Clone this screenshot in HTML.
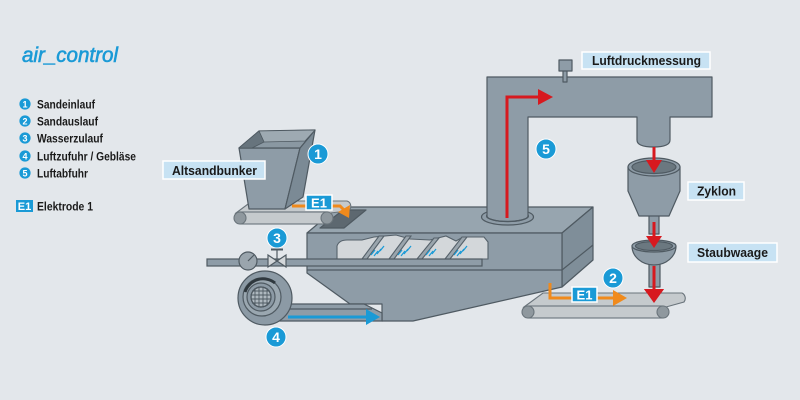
<!DOCTYPE html>
<html><head><meta charset="utf-8"><style>
html,body{margin:0;padding:0;background:#e3e7eb;}
svg{display:block;}
text{font-family:"Liberation Sans",sans-serif;}
</style></head><body>
<svg width="800" height="400" viewBox="0 0 800 400" xmlns="http://www.w3.org/2000/svg">
<rect width="800" height="400" fill="#e3e7eb"/>

<!-- Legend -->
<text x="22" y="62" font-size="21" font-style="italic" fill="#1a9ad6" stroke="#1a9ad6" stroke-width="0.6" textLength="96" lengthAdjust="spacingAndGlyphs">air_control</text>
<g font-weight="bold" font-size="12" fill="#1a1a1a">
  <circle cx="25" cy="104" r="5.6" fill="#1a9ad6"/><text x="25" y="107.5" font-size="9" fill="#fff" text-anchor="middle">1</text>
  <text x="37" y="108.5" textLength="58" lengthAdjust="spacingAndGlyphs">Sandeinlauf</text>
  <circle cx="25" cy="121" r="5.6" fill="#1a9ad6"/><text x="25" y="124.5" font-size="9" fill="#fff" text-anchor="middle">2</text>
  <text x="37" y="125.5" textLength="61" lengthAdjust="spacingAndGlyphs">Sandauslauf</text>
  <circle cx="25" cy="138" r="5.6" fill="#1a9ad6"/><text x="25" y="141.5" font-size="9" fill="#fff" text-anchor="middle">3</text>
  <text x="37" y="142.5" textLength="66" lengthAdjust="spacingAndGlyphs">Wasserzulauf</text>
  <circle cx="25" cy="156" r="5.6" fill="#1a9ad6"/><text x="25" y="159.5" font-size="9" fill="#fff" text-anchor="middle">4</text>
  <text x="37" y="160.5" textLength="99" lengthAdjust="spacingAndGlyphs">Luftzufuhr / Gebläse</text>
  <circle cx="25" cy="173" r="5.6" fill="#1a9ad6"/><text x="25" y="176.5" font-size="9" fill="#fff" text-anchor="middle">5</text>
  <text x="37" y="177.5" textLength="51" lengthAdjust="spacingAndGlyphs">Luftabfuhr</text>
  <rect x="16" y="200" width="17" height="12" fill="#1a9ad6"/>
  <text x="24.5" y="210" font-size="11" fill="#fff" text-anchor="middle">E1</text>
  <text x="37" y="210.5" textLength="56" lengthAdjust="spacingAndGlyphs">Elektrode 1</text>
</g>

<!-- Mixer box -->
<g stroke="#4f5a62" stroke-width="1.2" stroke-linejoin="round">
  <polygon points="307,233 338,207 593,207 562,233" fill="#97a5af"/>
  <polygon points="562,233 593,207 593,260 562,287" fill="#7f8e99"/>
  <line x1="562" y1="270" x2="593" y2="245"/>
  <polygon points="307,233 562,233 562,287 413,321 382,321 382,304 350,304 307,273" fill="#8e9ca7"/>
  <line x1="307" y1="270" x2="562" y2="270"/>
  <!-- plate on top -->
  <polygon points="320,228 343,210 366,210 344,228" fill="#5d6870"/>
</g>

<!-- mixing window -->
<g stroke="#55616a" stroke-width="1.1">
  <path d="M337,259 L337,246 Q339,240 347,240 L362,240 L374,237 L396,235 L410,239 L430,240 L446,236 L456,241 L463,237 L484,237 L488,242 L488,259 Z" fill="#d3d7da"/>
  <polygon points="362,259 379,236 384,236 367,259" fill="#9aa5ad"/>
  <polygon points="389,259 406,236 411,236 394,259" fill="#9aa5ad"/>
  <polygon points="417,259 434,238 439,238 422,259" fill="#9aa5ad"/>
  <polygon points="445,259 462,237 467,237 450,259" fill="#9aa5ad"/>
</g>
<g stroke="#1a9ad6" stroke-width="1.2">
  <line x1="371" y1="255" x2="375" y2="250"/><line x1="374" y1="256" x2="378" y2="251"/><line x1="377" y1="254" x2="381" y2="249"/><line x1="380" y1="251" x2="384" y2="246"/>
  <line x1="398" y1="255" x2="402" y2="250"/><line x1="401" y1="256" x2="405" y2="251"/><line x1="404" y1="254" x2="408" y2="249"/><line x1="407" y1="251" x2="411" y2="246"/>
  <line x1="426" y1="255" x2="430" y2="250"/><line x1="429" y1="256" x2="433" y2="251"/><line x1="432" y1="254" x2="436" y2="249"/>
  <line x1="454" y1="255" x2="458" y2="250"/><line x1="457" y1="256" x2="461" y2="251"/><line x1="460" y1="254" x2="464" y2="249"/><line x1="463" y1="251" x2="467" y2="246"/>
</g>

<!-- Water pipe -->
<g stroke="#4f5a62" stroke-width="1.2">
  <rect x="207" y="259" width="275" height="7" fill="#8e9ca7"/>
  <circle cx="248" cy="261" r="9" fill="#9aa5ad"/>
  <line x1="248" y1="261" x2="254" y2="255"/>
  <polygon points="268,255 268,267 277,261" fill="#d3d7da"/>
  <polygon points="286,255 286,267 277,261" fill="#d3d7da"/>
  <line x1="277" y1="261" x2="277" y2="250"/>
  <line x1="271" y1="249.5" x2="283" y2="249.5" stroke-width="2"/>
</g>

<!-- Blower pipe & blower -->
<g stroke="#4f5a62" stroke-width="1.2">
  <polygon points="268,304 364,304 382,313 382,321 268,321" fill="#8e9ca7"/>
  <line x1="285" y1="309" x2="372" y2="309"/>
  <circle cx="265" cy="298" r="27" fill="#8c9aa5"/>
  <circle cx="262" cy="297" r="19" fill="#9aa7b0"/>
  <path d="M245,292 A19,19 0 0 1 275,283" fill="none" stroke="#2f383e" stroke-width="3"/>
  <circle cx="261" cy="297" r="14" fill="#8c9aa5"/>
  <circle cx="261" cy="297" r="10" fill="#aeb8bf"/>
  <g stroke-width="0.9">
    <line x1="255" y1="288" x2="255" y2="306"/><line x1="259" y1="287" x2="259" y2="307"/><line x1="263" y1="287" x2="263" y2="307"/><line x1="267" y1="288" x2="267" y2="306"/>
    <line x1="252" y1="291" x2="270" y2="291"/><line x1="251" y1="295" x2="271" y2="295"/><line x1="251" y1="299" x2="271" y2="299"/><line x1="252" y1="303" x2="270" y2="303"/>
  </g>
  <circle cx="261" cy="297" r="10" fill="none"/>
</g>
<line x1="288" y1="317" x2="368" y2="317" stroke="#1a9ad6" stroke-width="3"/>
<polygon points="366,309 380,317 366,325" fill="#1a9ad6"/>

<!-- Bunker conveyor -->
<g stroke="#6a747b" stroke-width="1.1">
  <path d="M236,213 L252,201 L347,201 A5.5,5.5 0 0 1 348,211 L330,213 Z" fill="#c5cacd"/>
  <rect x="240" y="212" width="87" height="12" fill="#c5cacd"/>
  <circle cx="240" cy="218" r="6" fill="#8f989e"/>
  <circle cx="327" cy="218" r="6" fill="#8f989e"/>
</g>

<!-- Bunker -->
<g stroke="#4f5a62" stroke-width="1.2" stroke-linejoin="round">
  <polygon points="239,148 300,148 285,209 249,209" fill="#8e9ca7"/>
  <polygon points="300,148 315,130 303,197 285,209" fill="#7b8a95"/>
  <polygon points="239,148 259,131 315,130 300,148" fill="#8a98a2"/>
  <polygon points="259,131 315,130 305,141 264,142" fill="#9eaab2" stroke-width="0.8"/>
  <polygon points="239,148 259,131 264,142 252,148" fill="#67747d" stroke-width="0.8"/>
</g>

<!-- Orange E1 on bunker conveyor -->
<path d="M292,206 L340,206 L344,210" fill="none" stroke="#f08a1c" stroke-width="3"/>
<polygon points="338,212 350,205 349,218" fill="#f08a1c"/>
<rect x="306" y="195" width="26" height="15" fill="#1a9ad6" stroke="#fff" stroke-width="1.5"/>
<text x="319" y="207.5" font-size="13" font-weight="bold" fill="#fff" text-anchor="middle">E1</text>

<!-- Tower -->
<g stroke="#4f5a62" stroke-width="1.2" stroke-linejoin="round">
  <ellipse cx="507.5" cy="217" rx="26" ry="8" fill="#8e9ca7"/>
  <ellipse cx="507.5" cy="216" rx="21" ry="5.5" fill="#8e9ca7"/>
  <path d="M487,216 L487,77 L712,77 L712,117 L670,117 L670,140 Q670,147 653.5,147 Q637,147 637,140 L637,117 L528,117 L528,216 Z" fill="#8e9ca7" stroke="none"/>
  <path d="M487,216 L487,77 L712,77 L712,117 L670,117 L670,140 Q670,147 653.5,147 Q637,147 637,140 L637,117 L528,117 L528,216" fill="none"/>
  <path d="M487,216 A20.5,5.5 0 0 0 528,216" fill="none"/>
  <rect x="563" y="70" width="4" height="12" fill="#8e9ca7"/>
  <rect x="559" y="60" width="13" height="11" fill="#8e9ca7"/>
</g>
<path d="M507,218 L507,97 L540,97" fill="none" stroke="#d7191f" stroke-width="3"/>
<polygon points="538,89 553,97 538,105" fill="#d7191f"/>

<!-- Cyclone -->
<g stroke="#4f5a62" stroke-width="1.2" stroke-linejoin="round">
  <rect x="649" y="214" width="10" height="20" fill="#8e9ca7"/>
  <path d="M628,167 L628,191 L639,216 L669,216 L680,191 L680,167 Z" fill="#8e9ca7"/>
  <ellipse cx="654" cy="167" rx="26" ry="9" fill="#8e9ca7"/>
  <ellipse cx="654" cy="167" rx="22" ry="6.5" fill="#6b7880"/>
  <rect x="649" y="262" width="11" height="25" fill="#8e9ca7"/>
  <path d="M632,246 A22,19 0 0 0 676,246 Z" fill="#8e9ca7"/>
  <ellipse cx="654" cy="246" rx="22" ry="6" fill="#8e9ca7"/>
  <ellipse cx="654" cy="246" rx="18.5" ry="4.5" fill="#6b7880"/>
</g>
<g fill="#d7191f">
  <line x1="654" y1="147" x2="654" y2="162" stroke="#d7191f" stroke-width="3"/>
  <polygon points="646,160 662,160 654,173"/>
  <line x1="654" y1="222" x2="654" y2="238" stroke="#d7191f" stroke-width="3"/>
  <polygon points="646,236 662,236 654,248"/>
  <line x1="654" y1="266" x2="654" y2="291" stroke="#d7191f" stroke-width="3"/>
  <polygon points="644,289 664,289 654,303"/>
</g>

<!-- Bottom conveyor -->
<g stroke="#6a747b" stroke-width="1.1">
  <path d="M524,307 L543,293 L682,293 A6,6 0 0 1 684,302 L666,307 Z" fill="#c5cacd"/>
  <rect x="528" y="306" width="135" height="12" fill="#c5cacd"/>
  <circle cx="528" cy="312" r="6" fill="#8f989e"/>
  <circle cx="663" cy="312" r="6" fill="#8f989e"/>
</g>
<polygon points="644,289 664,289 654,303" fill="#d7191f"/>
<path d="M550,283 L550,298 L616,298" fill="none" stroke="#f08a1c" stroke-width="3"/>
<polygon points="613,290 627,298 613,306" fill="#f08a1c"/>
<rect x="572" y="287" width="25" height="15" fill="#1a9ad6" stroke="#fff" stroke-width="1.5"/>
<text x="584.5" y="299.5" font-size="13" font-weight="bold" fill="#fff" text-anchor="middle">E1</text>

<!-- Markers -->
<g font-weight="bold" font-size="14" fill="#fff" text-anchor="middle">
  <circle cx="318" cy="154" r="10" fill="#1a9ad6" stroke="#fff" stroke-width="1"/><text x="318" y="159">1</text>
  <circle cx="613" cy="278" r="10" fill="#1a9ad6" stroke="#fff" stroke-width="1"/><text x="613" y="283">2</text>
  <circle cx="277" cy="238" r="10" fill="#1a9ad6" stroke="#fff" stroke-width="1"/><text x="277" y="243">3</text>
  <circle cx="276" cy="337" r="10" fill="#1a9ad6" stroke="#fff" stroke-width="1"/><text x="276" y="342">4</text>
  <circle cx="546" cy="149" r="10" fill="#1a9ad6" stroke="#fff" stroke-width="1"/><text x="546" y="154">5</text>
</g>

<!-- Labels -->
<g font-weight="bold" font-size="13" fill="#1a1a1a">
  <rect x="163" y="161" width="102" height="18" fill="#c7e2f3" stroke="#fff" stroke-width="1.5"/>
  <text x="172" y="175" textLength="85" lengthAdjust="spacingAndGlyphs">Altsandbunker</text>
  <rect x="582" y="52" width="128" height="17" fill="#c7e2f3" stroke="#fff" stroke-width="1.5"/>
  <text x="592" y="65" textLength="109" lengthAdjust="spacingAndGlyphs">Luftdruckmessung</text>
  <rect x="688" y="182" width="56" height="18" fill="#c7e2f3" stroke="#fff" stroke-width="1.5"/>
  <text x="697" y="195.5" textLength="39" lengthAdjust="spacingAndGlyphs">Zyklon</text>
  <rect x="688" y="243" width="89" height="19" fill="#c7e2f3" stroke="#fff" stroke-width="1.5"/>
  <text x="697" y="257" textLength="71" lengthAdjust="spacingAndGlyphs">Staubwaage</text>
</g>
</svg>
</body></html>
